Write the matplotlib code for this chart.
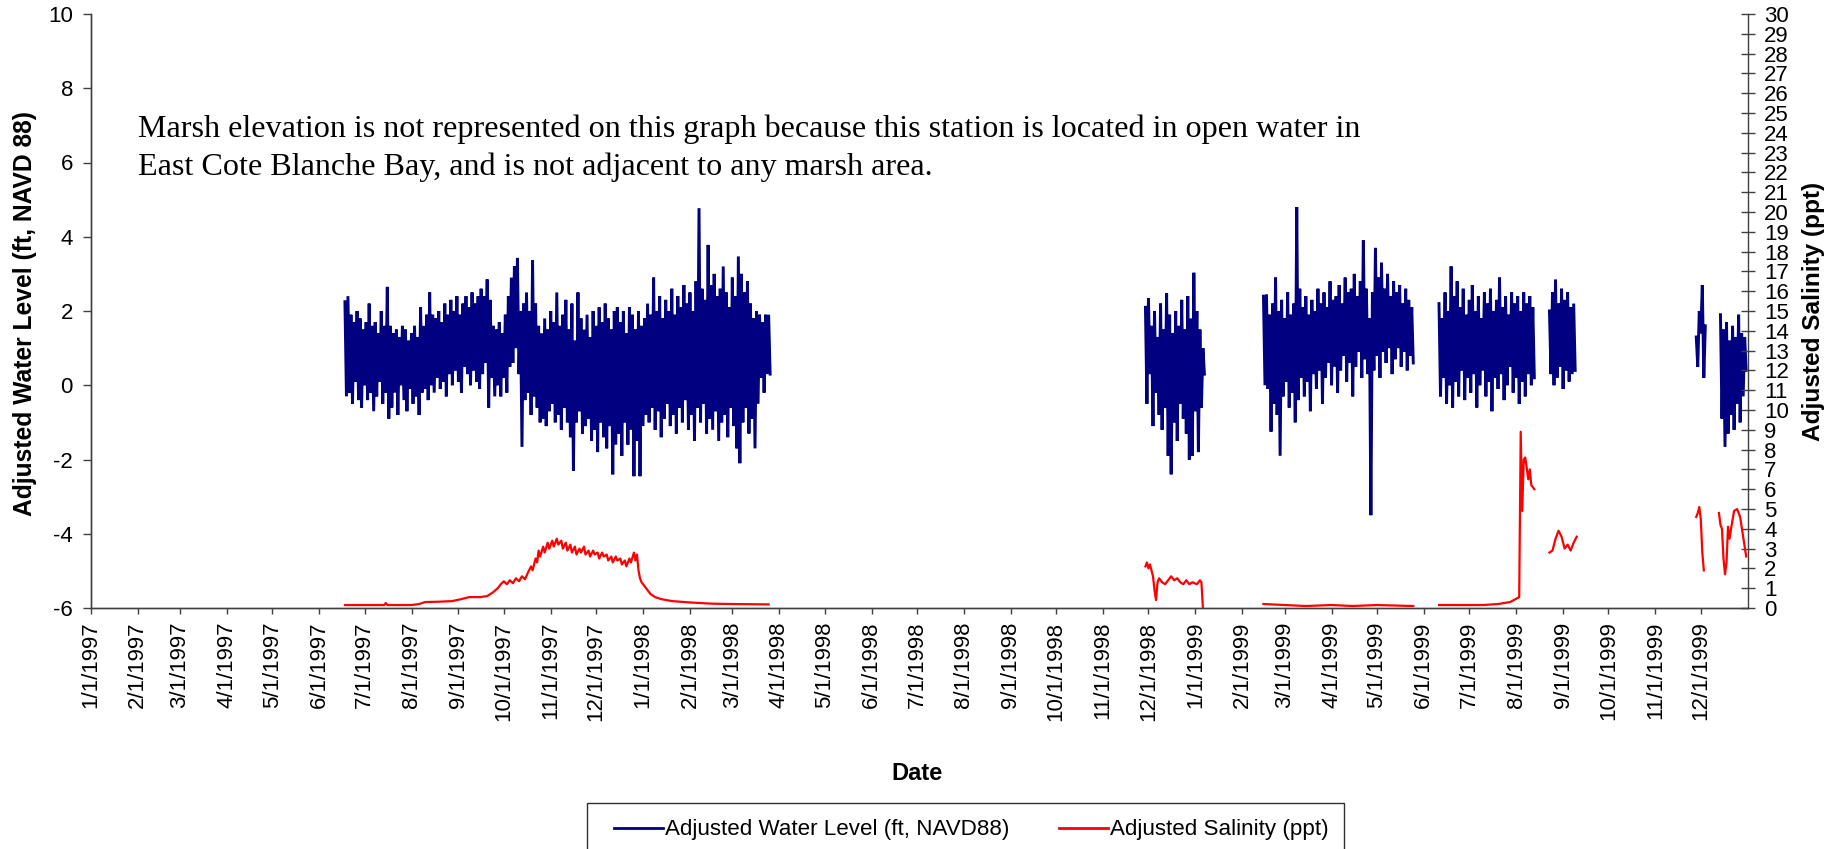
import numpy as np
import datetime as dt
import matplotlib
matplotlib.use('Agg')
import matplotlib.pyplot as plt
from matplotlib.lines import Line2D
from matplotlib.patches import Rectangle

plt.rcParams['font.family'] = ['Liberation Sans', 'DejaVu Sans']
plt.rcParams['axes.unicode_minus'] = False

# ---------------- data ----------------
# Water level: each segment = start date + daily readings (alternating high / low)
wl_seg1_start = '1997-06-18'
wl_seg1 = [2.25,-0.3,2.4,-0.2,1.9,-0.5,1.7,0.1,2.0,-0.4,
           1.8,-0.6,1.5,0.0,1.7,-0.4,2.2,-0.2,1.6,-0.7,
           1.7,-0.3,1.4,0.1,2.0,-0.5,1.6,-0.2,2.65,-0.9,
           1.6,-0.6,1.4,-0.2,1.5,-0.8,1.3,0.0,1.6,-0.4,
           1.5,-0.7,1.2,-0.1,1.4,-0.5,1.6,-0.3,1.3,-0.8,
           2.1,-0.2,1.6,-0.1,1.9,-0.4,2.5,0.0,1.9,-0.2,
           1.8,0.2,2.0,-0.1,1.7,0.1,2.2,-0.3,1.9,0.3,
           2.3,0.0,2.0,0.4,2.4,0.1,1.9,-0.2,2.2,0.5,
           2.4,0.3,2.1,0.0,2.5,0.4,2.2,0.1,2.4,-0.1,
           2.6,0.3,2.4,0.6,2.85,-0.6,2.3,0.2,1.6,-0.3,
           1.5,0.0,1.7,-0.3,1.4,0.2,1.9,-0.2,2.4,0.5,
           2.9,0.6,3.2,1.0,3.43,0.3,2.0,-1.66,2.2,-0.4,
           2.5,-0.2,2.0,-0.8,3.36,-0.3,2.2,-0.6,1.6,-1.0,
           1.4,-0.9,1.8,-1.1,1.5,-0.7,2.0,-0.5,1.7,-1.0,
           2.5,-0.8,1.6,-1.2,1.9,-0.6,2.3,-1.0,1.5,-1.4,
           2.2,-2.3,1.2,-1.0,2.5,-0.7,1.8,-1.3,1.5,-1.1,
           1.9,-0.9,1.3,-1.5,2.0,-1.2,1.6,-1.8,2.1,-1.0,
           1.7,-1.4,2.2,-1.7,1.8,-1.1,1.5,-2.4,2.0,-1.6,
           2.1,-1.3,1.7,-1.9,2.0,-1.0,1.4,-1.6,2.1,-1.2,
           1.9,-2.45,1.5,-1.5,2.0,-2.45,1.6,-1.1,1.8,-0.8,
           2.2,-1.0,1.9,-0.6,2.9,-1.2,2.0,-0.7,2.4,-1.4,
           1.8,-0.9,2.3,-0.5,2.0,-1.1,2.6,-0.8,1.9,-1.3,
           2.4,-0.6,2.1,-1.0,2.7,-0.4,2.2,-1.2,2.5,-0.8,
           2.0,-1.5,2.8,-0.6,4.77,-1.0,2.6,-0.5,2.3,-1.3,
           3.78,-0.9,2.7,-1.2,3.0,-0.7,2.4,-1.5,2.6,-1.0,
           3.2,-0.8,2.5,-1.4,2.1,-0.6,2.9,-1.1,2.4,-1.7,
           3.47,-2.1,3.0,-1.0,2.5,-0.6,2.8,-1.3,2.2,-0.9,
           1.8,-1.7,2.0,-0.5,1.9,0.2,1.7,-0.2,1.9,0.3,
           1.9,0.3]

wl_seg2_start = '1998-11-29'
wl_seg2 = [2.1,-0.5,2.35,0.3,1.6,-1.1,2.0,-0.2,1.3,-0.8,
           2.2,-1.2,1.5,-0.6,2.48,-1.9,1.9,-2.4,1.4,-1.0,
           2.0,-1.5,1.6,-0.5,2.3,-0.9,1.5,-1.3,2.4,-2.0,
           1.8,-1.9,3.03,-0.7,2.0,-1.8,1.5,-0.6,1.0,0.3]

wl_seg3_start = '1999-02-15'
wl_seg3 = [2.4,0.0,2.45,-0.1,1.9,-1.25,2.2,-0.5,2.9,-0.8,
           2.0,-1.9,2.3,-0.3,1.8,0.1,2.5,-0.6,1.9,-0.2,
           2.2,-1.0,4.8,-0.4,2.6,0.2,2.1,-0.3,2.4,0.1,
           1.9,-0.7,2.3,0.3,2.0,-0.1,2.6,0.4,2.2,-0.5,
           2.5,0.2,2.1,0.6,2.8,0.0,2.3,0.5,2.4,-0.2,
           2.7,0.4,2.2,0.8,2.9,0.1,2.5,0.6,2.6,-0.3,
           3.0,0.5,2.4,0.9,2.8,0.2,3.9,0.7,2.6,0.3,
           1.8,-3.5,2.5,0.4,3.7,0.8,2.9,0.2,3.3,0.9,
           2.6,0.6,3.0,1.0,2.4,0.3,2.8,0.7,2.5,1.0,
           2.7,0.5,2.2,0.9,2.6,0.4,2.3,0.8,2.1,0.6]

wl_seg4_start = '1999-06-11'
wl_seg4 = [2.2,-0.3,1.8,0.2,2.5,-0.5,2.0,0.0,3.2,-0.6,
           2.4,0.1,2.8,-0.3,2.1,0.4,2.6,-0.4,1.9,0.2,
           2.3,-0.2,2.7,0.3,2.0,-0.6,2.4,0.0,1.8,0.4,
           2.5,-0.3,2.2,0.1,2.6,-0.7,2.0,0.2,2.3,-0.1,
           2.9,0.3,2.1,-0.4,2.4,0.0,1.9,0.5,2.5,-0.2,
           2.2,0.2,2.4,-0.5,2.0,0.1,2.5,-0.3,2.2,0.3,
           2.4,0.0,2.1,0.2]

wl_seg5_start = '1999-08-23'
wl_seg5 = [2.0,0.3,2.5,0.0,2.85,0.2,2.2,0.5,2.6,-0.1,2.3,0.4,2.5,0.1,2.1,0.3,2.2,0.4]

wl_seg6_start = '1999-11-28'
wl_seg6 = [1.3,0.5,2.0,1.4,2.7,0.2,1.6]

wl_seg7_start = '1999-12-14'
wl_seg7 = [1.9,-0.9,1.5,-1.66,1.7,-1.3,1.2,-0.8,1.6,-1.2,1.3,-0.5,1.9,-1.0,1.4,-0.3,1.3,0.4]

# Salinity (ppt): read points, None = gap in record
sal_dates = ['1997-06-18','1997-07-01','1997-07-14','1997-07-15','1997-07-16','1997-08-01','1997-08-06',
             '1997-08-10','1997-08-20','1997-08-28','1997-09-03','1997-09-08','1997-09-15','1997-09-20',
             '1997-09-24','1997-09-27','1997-09-29','1997-10-01','1997-10-03','1997-10-05','1997-10-07',
             '1997-10-09','1997-10-11','1997-10-13','1997-10-15','1997-10-17','1997-10-19','1997-10-20',
             '1997-10-22','1997-10-23','1997-10-24','1997-10-25','1997-10-27','1997-10-28','1997-10-30',
             '1997-10-31','1997-11-02','1997-11-03','1997-11-05','1997-11-06','1997-11-08','1997-11-09',
             '1997-11-11','1997-11-12','1997-11-14','1997-11-15','1997-11-17','1997-11-18','1997-11-20',
             '1997-11-21','1997-11-23','1997-11-24','1997-11-26','1997-11-27','1997-11-29','1997-11-30',
             '1997-12-02','1997-12-03','1997-12-05','1997-12-06','1997-12-08','1997-12-09','1997-12-11',
             '1997-12-12','1997-12-14','1997-12-15','1997-12-17','1997-12-18','1997-12-20','1997-12-21',
             '1997-12-23','1997-12-24','1997-12-26','1997-12-27','1997-12-28','1997-12-29','1997-12-30',
             '1997-12-31','1998-01-02','1998-01-04','1998-01-06','1998-01-09','1998-01-13','1998-01-20',
             '1998-02-01','1998-02-15','1998-03-01','1998-03-25',
             None,
             '1998-11-29','1998-11-30','1998-12-01','1998-12-02','1998-12-03','1998-12-04','1998-12-05',
             '1998-12-06','1998-12-07','1998-12-08','1998-12-10','1998-12-12','1998-12-14','1998-12-16',
             '1998-12-18','1998-12-20','1998-12-22','1998-12-24','1998-12-26','1998-12-28','1998-12-30',
             '1999-01-02','1999-01-04','1999-01-05','1999-01-06',
             None,
             '1999-02-15','1999-03-01','1999-03-15','1999-04-01','1999-04-15','1999-05-01','1999-05-25',
             None,
             '1999-06-11','1999-07-10','1999-07-20','1999-07-28','1999-08-03','1999-08-04','1999-08-05',
             '1999-08-06','1999-08-07','1999-08-09','1999-08-10','1999-08-11','1999-08-13',
             None,
             '1999-08-23','1999-08-25','1999-08-27','1999-08-29','1999-08-31','1999-09-02','1999-09-04',
             '1999-09-06','1999-09-08','1999-09-10',
             None,
             '1999-11-28','1999-11-29','1999-11-30','1999-12-01','1999-12-02','1999-12-03',
             None,
             '1999-12-13','1999-12-14','1999-12-15','1999-12-16','1999-12-17','1999-12-18','1999-12-19',
             '1999-12-20','1999-12-21','1999-12-23','1999-12-25','1999-12-27','1999-12-29','1999-12-31']
sal_vals = [0.15,0.15,0.15,0.25,0.15,0.15,0.2,
            0.3,0.32,0.35,0.45,0.55,0.55,0.6,
            0.8,1.0,1.2,1.35,1.2,1.4,1.25,
            1.5,1.35,1.6,1.45,1.8,2.1,1.9,
            2.5,2.3,2.9,2.6,3.1,2.8,3.3,
            3.0,3.4,3.1,3.5,3.2,3.4,3.0,
            3.3,2.9,3.2,2.8,3.1,2.7,3.0,
            2.8,3.1,2.7,2.9,2.6,2.9,2.7,
            2.8,2.5,2.8,2.6,2.7,2.4,2.6,
            2.3,2.6,2.4,2.5,2.2,2.4,2.1,
            2.5,2.3,2.8,2.4,2.7,1.9,1.5,
            1.3,1.1,0.9,0.7,0.55,0.45,0.35,
            0.28,0.22,0.2,0.18,
            None,
            2.1,2.3,2.0,2.2,1.9,1.6,0.9,
            0.4,1.3,1.5,1.3,1.2,1.4,1.6,
            1.4,1.5,1.3,1.2,1.4,1.2,1.3,
            1.2,1.4,1.3,0.0,
            None,
            0.2,0.15,0.1,0.15,0.1,0.15,0.1,
            None,
            0.15,0.15,0.2,0.3,0.55,8.9,4.9,
            7.5,7.6,6.5,7.0,6.2,6.0,
            None,
            2.8,2.9,3.5,3.9,3.6,3.0,3.2,
            2.9,3.3,3.6,
            None,
            4.6,4.8,5.1,4.5,2.8,1.9,
            None,
            4.8,4.2,4.0,2.5,1.7,2.3,4.1,
            3.5,4.0,4.9,5.0,4.6,3.6,2.6]

month_ticks = [f'{y}-{m:02d}-01' for y in (1997, 1998, 1999) for m in range(1, 13)]
month_labels = [f'{m}/1/{y}' for y in (1997, 1998, 1999) for m in range(1, 13)]

note_line1 = 'Marsh elevation is not represented on this graph because this station is located in open water in'
note_line2 = 'East Cote Blanche Bay, and is not adjacent to any marsh area.'
legend_labels = ['Adjusted Water Level (ft, NAVD88)', 'Adjusted Salinity (ppt)']

# ---------------- plot ----------------
W, H = 1841, 849
fig = plt.figure(figsize=(W / 100, H / 100), dpi=100)
ax = fig.add_axes([90.7 / W, 1 - 608 / H, (1747.7 - 90.7) / W, (608 - 14) / H])
ax2 = ax.twinx()

NAVY = '#000080'
RED = '#FF0000'
AXC = '#404040'


def seg_xy(start, vals):
    t0 = np.datetime64(start, 'h')
    x = t0 + np.arange(len(vals)) * np.timedelta64(24, 'h')
    return x.astype('datetime64[ms]').astype(object), np.array(vals, dtype=float)


for st, v in [(wl_seg1_start, wl_seg1), (wl_seg2_start, wl_seg2), (wl_seg3_start, wl_seg3),
              (wl_seg4_start, wl_seg4), (wl_seg5_start, wl_seg5), (wl_seg6_start, wl_seg6),
              (wl_seg7_start, wl_seg7)]:
    x, y = seg_xy(st, v)
    ax.plot(x, y, color=NAVY, lw=2.1, solid_joinstyle='miter', zorder=3)

runs, cur = [], ([], [])
for d, v in zip(sal_dates, sal_vals):
    if d is None:
        runs.append(cur)
        cur = ([], [])
    else:
        cur[0].append(dt.datetime.strptime(d, '%Y-%m-%d'))
        cur[1].append(v)
runs.append(cur)
for rx, ry in runs:
    ax2.plot(rx, ry, color=RED, lw=1.6, zorder=3)

ax.set_xlim(dt.datetime(1997, 1, 1), dt.datetime(2000, 1, 1))
ax.set_ylim(-6, 10)
ax2.set_ylim(0, 30)
ax.set_yticks(np.arange(-6, 11, 2))
ax2.set_yticks(np.arange(0, 31, 1))
ax.set_xticks([dt.datetime.strptime(d, '%Y-%m-%d') for d in month_ticks])
ax.set_xticklabels(month_labels, rotation=90)

for a in (ax, ax2):
    a.spines['top'].set_visible(False)
    for s in ('left', 'right', 'bottom'):
        a.spines[s].set_color(AXC)
        a.spines[s].set_linewidth(1.0)
    a.patch.set_visible(False)
ax.spines['right'].set_visible(False)

ax.tick_params(axis='y', direction='out', length=5.8, width=1, pad=7, labelsize=16, color=AXC)
ax.tick_params(axis='x', direction='out', length=4.3, width=1, pad=5.5, labelsize=16, color=AXC)
ax2.tick_params(axis='y', direction='inout', length=10, width=1, pad=7, labelsize=16, color=AXC)

fig.text(25 / W, 1 - 313 / H, 'Adjusted Water Level (ft, NAVD 88)', rotation=90, ha='center',
         va='center', fontsize=17.7, fontweight='bold')
fig.text(1813.6 / W, 1 - 311 / H, 'Adjusted Salinity (ppt)', rotation=90, ha='center',
         va='center', fontsize=17.6, fontweight='bold')
fig.text(917 / W, 1 - 780 / H, 'Date', ha='center', va='baseline', fontsize=17, fontweight='bold')

serif = ['Liberation Serif', 'DejaVu Serif']
fig.text(138 / W, 1 - 137 / H, note_line1, ha='left', va='baseline', fontsize=23.1, family=serif)
fig.text(138 / W, 1 - 175 / H, note_line2, ha='left', va='baseline', fontsize=23.1, family=serif)

handles = [Line2D([], [], color=NAVY, lw=2), Line2D([], [], color=RED, lw=2)]
fig.legend(handles, legend_labels,
           loc='center left', bbox_to_anchor=(614 / W, 1 - 830 / H), ncol=2, frameon=False,
           fontsize=16.1, borderpad=0, borderaxespad=0, handlelength=2.2, handletextpad=0.1,
           columnspacing=2.2)
fig.patches.append(Rectangle((587 / W, -0.05), (1344 - 587) / W, 0.05 + (1 - 803 / H),
                             transform=fig.transFigure, fill=False, edgecolor='#303030', lw=1.0))

fig.savefig('out.png', dpi=100)
